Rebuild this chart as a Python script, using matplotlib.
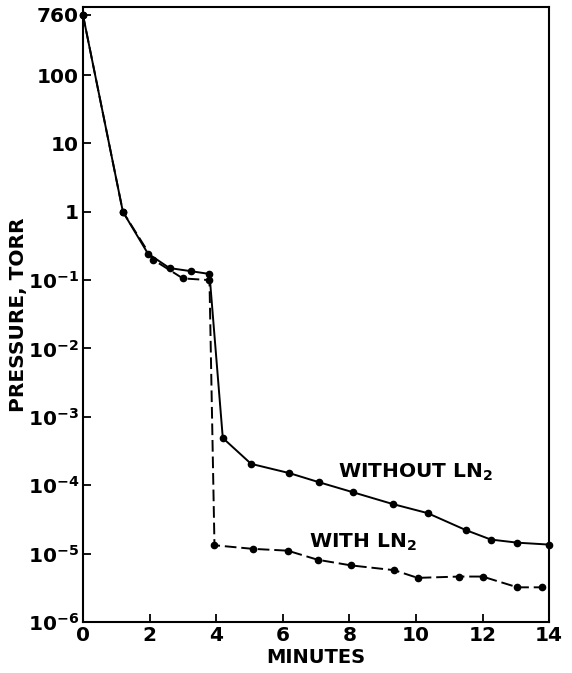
import matplotlib
matplotlib.use("Agg")
import matplotlib.pyplot as plt

plt.rcParams['font.family'] = ['DejaVu Sans']
plt.rcParams['font.weight'] = 'bold'
plt.rcParams['mathtext.default'] = 'regular'

# pump-down curve
minutes_without = [0, 1.2, 1.95, 2.6, 3.25, 3.8, 4.2, 5.05, 6.2, 7.1, 8.1, 9.3,
                   10.35, 11.5, 12.25, 13.05, 14.0]
torr_without = [760, 1.0, 0.245, 0.15, 0.135, 0.123, 4.9e-4, 2.05e-4, 1.5e-4,
                1.1e-4, 7.9e-5, 5.3e-5, 3.9e-5, 2.2e-5, 1.6e-5, 1.44e-5, 1.35e-5]

minutes_with = [0, 1.2, 2.1, 3.0, 3.8, 3.95, 5.1, 6.15, 7.05, 8.05, 9.35, 10.05,
                11.3, 12.0, 13.05, 13.8]
torr_with = [760, 1.0, 0.2, 0.106, 0.1, 1.32e-5, 1.17e-5, 1.1e-5, 8.1e-6,
             6.7e-6, 5.7e-6, 4.4e-6, 4.6e-6, 4.6e-6, 3.2e-6, 3.2e-6]

y_ticks = [1e-6, 1e-5, 1e-4, 1e-3, 1e-2, 1e-1, 1, 10, 100, 760]
y_labels = ['10$^{-6}$', '10$^{-5}$', '10$^{-4}$', '10$^{-3}$', '10$^{-2}$',
            '10$^{-1}$', '1', '10', '100', '760']
x_ticks = [0, 2, 4, 6, 8, 10, 12, 14]

fig = plt.figure(figsize=(5.72, 6.73), dpi=100)
ax = fig.add_axes([0.145, 0.076, 0.815, 0.914])

ax.plot(minutes_without, torr_without, color='black', lw=1.4,
        marker='o', ms=4.5, clip_on=False)
ax.plot(minutes_with, torr_with, color='black', lw=1.4, dashes=(6, 2.5),
        marker='o', ms=4.5, clip_on=False)

ax.set_yscale('log')
ax.set_xlim(0, 14)
ax.set_ylim(1e-6, 1e3)
ax.set_yticks(y_ticks)
ax.set_yticklabels(y_labels)
ax.minorticks_off()
ax.set_xticks(x_ticks)
ax.tick_params(direction='in', length=6, width=1.3, labelsize=14.5,
               top=False, right=False, pad=3)
for s in ax.spines.values():
    s.set_linewidth(1.5)

ax.set_xlabel('MINUTES', fontsize=14, fontweight='bold', labelpad=2)
ax.set_ylabel('PRESSURE, TORR', fontsize=14.5, fontweight='bold', labelpad=0)

ax.text(7.65, 1.55e-4, 'WITHOUT LN$_2$', fontsize=14.5, va='center')
ax.text(6.8, 1.47e-5, 'WITH LN$_2$', fontsize=14.5, va='center')

fig.savefig('out.png', dpi=100)
